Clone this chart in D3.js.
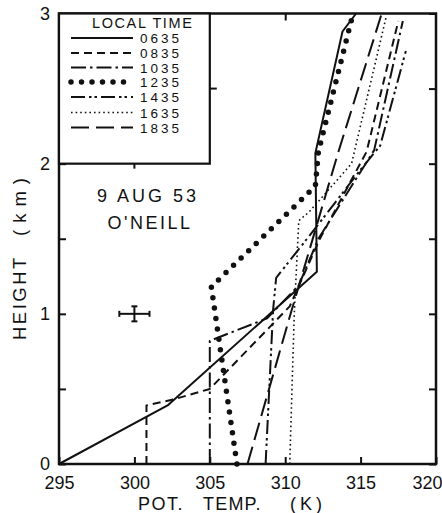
<!DOCTYPE html>
<html>
<head>
<meta charset="utf-8">
<script src="https://cdn.jsdelivr.net/npm/d3@7"></script>
<style>
  html, body { margin: 0; padding: 0; background: #fff; }
  svg { display: block; }
  text { font-family: "Liberation Sans", "DejaVu Sans", sans-serif; fill: #111; }
</style>
</head>
<body>
<svg id="chart" width="442" height="513"></svg>
<script>
// Potential temperature soundings, O'Neill, 9 Aug 1953 — [theta (K), height (km)]
const times = ["0635", "0835", "1035", "1235", "1435", "1635", "1835"];
const s0635 = [[295.0, 0], [302.2, 0.39], [312.1, 1.28], [312.0, 2.07], [313.8, 2.88], [314.7, 3.0]];
const s0835 = [[300.8, 0], [300.8, 0.39], [302.6, 0.43], [305.0, 0.50], [310.3, 1.05], [312.3, 1.5], [315.4, 2.08], [317.5, 2.95]];
const s1035 = [[305.0, 0], [305.0, 0.82], [308.8, 0.97], [310.9, 1.19], [312.2, 1.5], [315.9, 2.09], [317.8, 2.95]];
const s1235 = [[306.8, 0], [305.1, 1.18], [312.0, 1.85], [312.2, 2.08], [314.5, 3.0]];
const s1435 = [[308.7, 0], [309.2, 1.03], [309.4, 1.24], [312.0, 1.57], [315.0, 1.96], [316.3, 2.12], [318.0, 2.75]];
const s1635 = [[310.3, 0], [310.6, 1.0], [310.9, 1.62], [311.6, 1.68], [314.4, 2.0], [316.7, 2.98]];
const s1835 = [[307.5, 0], [310.3, 0.98], [313.5, 2.07], [316.4, 3.0]];
const seriesValues = [s0635, s0835, s1035, s1235, s1435, s1635, s1835];

const xTicks = [295, 300, 305, 310, 315, 320];
const xTickLabels = ["295", "300", "305", "310", "315", "320"];
const yTicks = [0, 0.5, 1, 1.5, 2, 2.5, 3];
const yTickLabels = ["0", "", "1", "", "2", "", "3"];

// Measurement uncertainty marker: centre and half-widths
const errCenter = [300, 1.0];
const errHalf = [1.0, 0.05];

// Line styles per sounding time
const styles = {
  "0635": { dash: null, width: 2 },
  "0835": { dash: "8 5", width: 2 },
  "1035": { dash: "15 4 2.5 4", width: 2 },
  "1235": { dash: "0 10.5", width: 5.5, cap: "round" },
  "1435": { dash: "14 4 2.5 3 2.5 4", width: 2 },
  "1635": { dash: "1.6 3", width: 1.6 },
  "1835": { dash: "18 7", width: 2 }
};

const svg = d3.select("#chart");
const plotL = 59, plotR = 436, plotT = 13.5, plotB = 464;

const x = d3.scaleLinear().domain([295, 320]).range([plotL, plotR]);
const y = d3.scaleLinear().domain([0, 3]).range([plotB, plotT]);

const line = d3.line().x(d => x(d[0])).y(d => y(d[1]));

// Soundings
const g = svg.append("g");
seriesValues.forEach((vals, i) => {
  const st = styles[times[i]];
  g.append("path")
    .attr("d", line(vals))
    .attr("fill", "none")
    .attr("stroke", "#111")
    .attr("stroke-width", st.width)
    .attr("stroke-dasharray", st.dash)
    .attr("stroke-linecap", st.cap || "butt")
    .attr("stroke-linejoin", "round");
});

// Axes with inward ticks
const axB = d3.axisBottom(x).tickValues(xTicks).tickSize(-7).tickPadding(12)
  .tickFormat((d, i) => xTickLabels[i]);
const axL = d3.axisLeft(y).tickValues(yTicks).tickSize(-7).tickPadding(9)
  .tickFormat((d, i) => yTickLabels[i]);
const axR = d3.axisRight(y).tickValues(yTicks).tickSize(-7).tickFormat("");
const axT = d3.axisTop(x).tickValues([300, 310]).tickSize(-7).tickFormat("");

function styleAxis(sel) {
  sel.select(".domain").remove();
  sel.selectAll(".tick line").attr("stroke", "#111").attr("stroke-width", 2);
  sel.selectAll(".tick text").style("font-family", "'Liberation Sans', sans-serif")
    .style("font-size", "18px").attr("fill", "#111");
}
const gB = svg.append("g").attr("transform", `translate(0,${plotB})`).call(axB).call(styleAxis);
// last label sits inside the page edge
gB.selectAll(".tick text").filter(d => d === 320).attr("text-anchor", "end").attr("x", 6);
svg.append("g").attr("transform", `translate(${plotL},0)`).call(axL).call(styleAxis);
svg.append("g").attr("transform", `translate(${plotR},0)`).call(axR).call(styleAxis);
svg.append("g").attr("transform", `translate(0,${plotT})`).call(axT).call(styleAxis);

// Frame
svg.append("rect")
  .attr("x", plotL).attr("y", plotT)
  .attr("width", plotR - plotL).attr("height", plotB - plotT)
  .attr("fill", "none").attr("stroke", "#111").attr("stroke-width", 2.5);

// Legend panel (upper left, 295–305 K, 2–3 km)
const lg = svg.append("g");
lg.append("rect")
  .attr("x", x(295)).attr("y", y(3))
  .attr("width", x(305) - x(295)).attr("height", y(2) - y(3))
  .attr("fill", "#fff").attr("stroke", "#111").attr("stroke-width", 2.2);
lg.append("line").attr("x1", x(300)).attr("x2", x(300))
  .attr("y1", y(2)).attr("y2", y(2) + 5).attr("stroke", "#111").attr("stroke-width", 2);
lg.append("line").attr("x1", x(305)).attr("x2", x(305) + 7)
  .attr("y1", y(2.5)).attr("y2", y(2.5)).attr("stroke", "#111").attr("stroke-width", 2);

lg.append("text").attr("x", 92).attr("y", 28)
  .style("font-size", "14.5px").style("letter-spacing", "1.6px")
  .text("LOCAL  TIME");

const rowY = [38, 53, 67.5, 82, 97, 112.5, 127.5];
times.forEach((t, i) => {
  const st = styles[t];
  lg.append("line")
    .attr("x1", 71).attr("x2", 133)
    .attr("y1", rowY[i]).attr("y2", rowY[i])
    .attr("stroke", "#111")
    .attr("stroke-width", st.width)
    .attr("stroke-dasharray", st.dash)
    .attr("stroke-linecap", st.cap || "butt");
  lg.append("text")
    .attr("x", 140).attr("y", rowY[i] + 5)
    .style("font-size", "13.5px").style("letter-spacing", "3px")
    .text(t);
});

// Date and station
svg.append("text").attr("x", 148).attr("y", 202)
  .attr("text-anchor", "middle").style("font-size", "18px").style("letter-spacing", "3px")
  .text("9 AUG 53");
svg.append("text").attr("x", 150).attr("y", 229)
  .attr("text-anchor", "middle").style("font-size", "18px").style("letter-spacing", "2.5px")
  .text("O'NEILL");

// Error bar
const eb = svg.append("g").attr("stroke", "#111").attr("stroke-width", 2);
const ex0 = x(errCenter[0] - errHalf[0]), ex1 = x(errCenter[0] + errHalf[0]);
const ey0 = y(errCenter[1] - errHalf[1]), ey1 = y(errCenter[1] + errHalf[1]);
const ecx = x(errCenter[0]), ecy = y(errCenter[1]);
eb.append("line").attr("x1", ex0).attr("x2", ex1).attr("y1", ecy).attr("y2", ecy);
eb.append("line").attr("x1", ecx).attr("x2", ecx).attr("y1", ey0).attr("y2", ey1);
eb.append("line").attr("x1", ex0).attr("x2", ex0).attr("y1", ecy - 3).attr("y2", ecy + 3);
eb.append("line").attr("x1", ex1).attr("x2", ex1).attr("y1", ecy - 3).attr("y2", ecy + 3);
eb.append("line").attr("x1", ecx - 3).attr("x2", ecx + 3).attr("y1", ey0).attr("y2", ey0);
eb.append("line").attr("x1", ecx - 3).attr("x2", ecx + 3).attr("y1", ey1).attr("y2", ey1);

// Axis titles
const xt = svg.append("text").attr("y", 510).style("font-size", "18px");
xt.append("tspan").attr("x", 138).style("letter-spacing", "1.5px").text("POT.");
xt.append("tspan").attr("x", 203).style("letter-spacing", "1.2px").text("TEMP.");
xt.append("tspan").attr("x", 290).style("letter-spacing", "4px").text("(K)");

const yt = svg.append("text")
  .attr("transform", "translate(26,0) rotate(-90)")
  .style("font-size", "18.5px");
yt.append("tspan").attr("x", -340).style("letter-spacing", "2.5px").text("HEIGHT");
yt.append("tspan").attr("x", -236).style("letter-spacing", "7px").text("(km)");
</script>
</body>
</html>
